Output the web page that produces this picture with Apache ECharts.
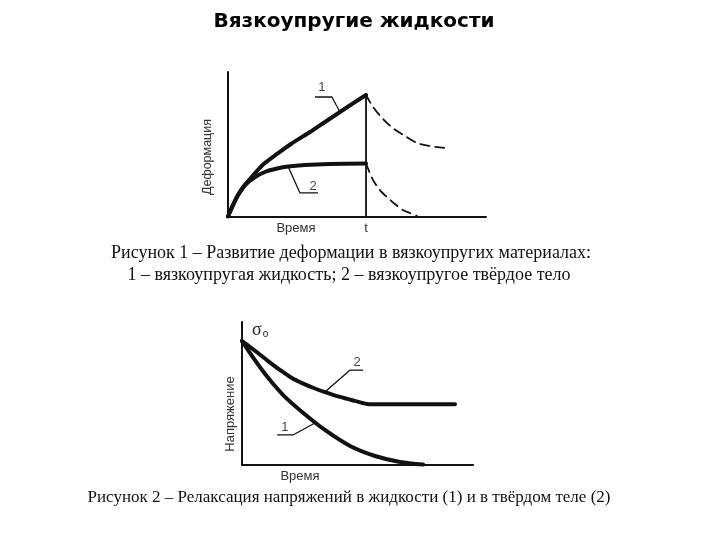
<!DOCTYPE html>
<html><head><meta charset="utf-8">
<script src="https://cdn.jsdelivr.net/npm/echarts@6/dist/echarts.min.js"></script>
<style>html,body{margin:0;padding:0;background:#fff}#c{width:720px;height:540px}</style>
</head><body><div id="c"></div>
<script>
// ---- Figure 1: deformation vs time (units 0..100 on both axes)
var fig1Curve1 = [[0,0],[1.6,6.6],[3.9,14.9],[6.6,21.8],[10.5,30.1],[14.3,37],[19,43.3],[24.4,50.2],[31.8,58.5],[37.6,65.4],[43.4,72.3],[49.2,79.2],[53.5,84.1]];
var fig1Curve2 = [[0,0],[1.6,6.6],[3.9,14.9],[6.6,21.8],[10.5,27.3],[14.3,30.8],[19,33.2],[23.3,34.6],[29.8,35.6],[39.5,36.3],[53.5,36.7]];
var fig1Dash1 = [[53.5,84.1],[56.2,75.8],[60.1,67.5],[63.9,61.2],[68.6,55.7],[73.3,50.9],[78.3,48.8],[84.1,47.4]];
var fig1Dash2 = [[53.5,36.7],[56.2,25.3],[58.9,18.3],[61.6,13.5],[64.7,8.7],[67.8,4.5],[70.5,2.4],[73.3,0.3]];
var fig1Unload = [[53.5,0],[53.5,84.1]];
var fig1Leader1 = [[33.7,82.7],[40.3,82.7],[43.4,72.3]];
var fig1Leader2 = [[34.9,16.3],[27.9,16.3],[23.3,34.6]];
var fig1LabelPts = [[36.4,89.5,'1'],[33,21,'2']];
var fig1TLabel = [53.5];

// ---- Figure 2: stress relaxation (units 0..100)
var fig2Curve1 = [[0,86.7],[2.6,80.4],[5.6,73.4],[8.7,66.4],[12.1,59.4],[18.6,47.6],[26,37.1],[35.9,24.5],[46.8,13.3],[57.6,6.3],[68.4,2.1],[78.4,0.3]];
var fig2Curve2 = [[0,86.7],[3.5,82.5],[6.9,78.3],[11.3,72.7],[16.5,66.4],[21.6,60.8],[26,57.3],[31.6,53.5],[35.9,51],[42.4,47.6],[48.9,44.8],[54.1,42.7],[59.7,42.4],[92.2,42.4]];
var fig2Leader1 = [[15.2,21],[22.1,21],[31.6,29.4]];
var fig2Leader2 = [[52.4,66.4],[46.8,66.4],[35.9,51]];
var fig2LabelPts = [[18.6,26.5,'1'],[49.8,71.5,'2']];

var titleText = 'Вязкоупругие жидкости';
var caption1a = 'Рисунок 1 – Развитие деформации в вязкоупругих материалах:';
var caption1b = '1 – вязкоупругая жидкость; 2 – вязкоупругое твёрдое тело';
var caption2 = 'Рисунок 2 – Релаксация напряжений в жидкости (1) и в твёрдом теле (2)';

var chart = echarts.init(document.getElementById('c'));
var axisLine = {show:true, lineStyle:{color:'#111', width:2}};
function vAxis(gi, extra){
  return Object.assign({type:'value', gridIndex:gi, min:0, max:100, axisLine:axisLine, axisTick:{show:false}, axisLabel:{show:false}, splitLine:{show:false}}, extra||{});
}
function line(data, xi, w, dashed){
  return {type:'line', xAxisIndex:xi, yAxisIndex:xi, data:data, smooth:0.3, symbol:'none', silent:true,
    lineStyle:{color:'#111', width:w, type: dashed ? [9,6] : 'solid', cap:'round', join:'round'}, z:3};
}
function poly(data, xi){
  return {type:'line', xAxisIndex:xi, yAxisIndex:xi, data:data, smooth:false, symbol:'none', silent:true,
    lineStyle:{color:'#111', width:1.3}, z:2};
}
function labels(data, xi){
  return {type:'scatter', xAxisIndex:xi, yAxisIndex:xi, data:data, symbolSize:0, silent:true,
    label:{show:true, position:'inside', formatter:function(p){return p.value[2];}, color:'#111', fontSize:13, fontFamily:'Arial, Liberation Sans, sans-serif'}};
}
var serif = '"Liberation Serif","Times New Roman",serif';
var sans = 'Arial, "Liberation Sans", sans-serif';

chart.setOption({
  animation:false,
  title:{text:titleText, left:349, top:7, textAlign:'center', textStyle:{fontFamily:'"DejaVu Sans", sans-serif', fontWeight:'bold', fontSize:20, color:'#000'}},
  grid:[{left:228, top:72, width:258, height:144.5},{left:242, top:322, width:231, height:143}],
  xAxis:[vAxis(0,{axisLabel:{show:true, customValues:fig1TLabel, formatter:function(){return 't';}, color:'#333', fontSize:13, margin:5, fontFamily:sans}}), vAxis(1)],
  yAxis:[vAxis(0), vAxis(1)],
  series:[
    line(fig1Curve1,0,4,false),
    line(fig1Curve2,0,4,false),
    line(fig1Dash1,0,1.8,true),
    line(fig1Dash2,0,1.8,true),
    {type:'line', xAxisIndex:0, yAxisIndex:0, data:fig1Unload, symbol:'none', silent:true, lineStyle:{color:'#111', width:1.8}},
    poly(fig1Leader1,0), poly(fig1Leader2,0), labels(fig1LabelPts,0),
    line(fig2Curve1,1,4,false),
    line(fig2Curve2,1,4,false),
    poly(fig2Leader1,1), poly(fig2Leader2,1), labels(fig2LabelPts,1)
  ],
  graphic:[
    {type:'text', x:208, y:157, rotation:Math.PI/2, style:{text:'Деформация', font:'12.5px '+sans, fill:'#333', align:'center', verticalAlign:'middle'}},
    {type:'text', x:296, y:228, style:{text:'Время', font:'13px '+sans, fill:'#333', align:'center', verticalAlign:'middle'}},
    {type:'text', x:351, y:253, style:{text:caption1a, font:'18px '+serif, fill:'#111', align:'center', verticalAlign:'middle'}},
    {type:'text', x:349, y:275, style:{text:caption1b, font:'18px '+serif, fill:'#111', align:'center', verticalAlign:'middle'}},
    {type:'text', x:230, y:414, rotation:Math.PI/2, style:{text:'Напряжение', font:'13px '+sans, fill:'#333', align:'center', verticalAlign:'middle'}},
    {type:'text', x:300, y:476, style:{text:'Время', font:'13px '+sans, fill:'#333', align:'center', verticalAlign:'middle'}},
    {type:'text', x:252, y:330, style:{text:'{s|σ}{o|o}', rich:{s:{font:'18px '+serif, fill:'#222'}, o:{font:'10px '+sans, fill:'#222', padding:[8,0,0,1]}}, verticalAlign:'middle'}},
    {type:'text', x:349, y:498, style:{text:caption2, font:'17px '+serif, fill:'#111', align:'center', verticalAlign:'middle'}}
  ]
});
</script></body></html>
